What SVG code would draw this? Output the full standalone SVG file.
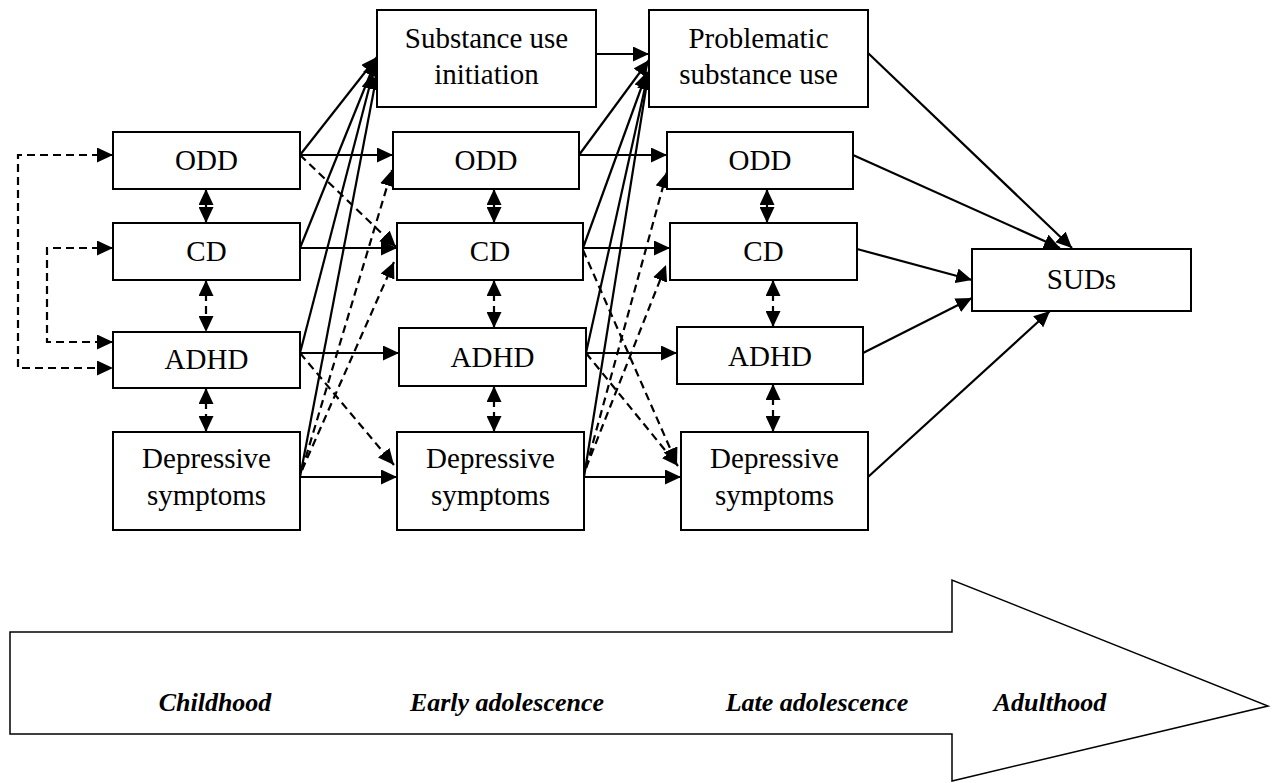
<svg xmlns="http://www.w3.org/2000/svg" width="1280" height="783" viewBox="0 0 1280 783">
  <style>
    .box { fill: #fff; stroke: #000; stroke-width: 2; }
    .lbl { font-family: "Liberation Serif", "Times New Roman", serif; font-size: 29px; fill: #000; text-anchor: middle; }
    .stage { font-family: "Liberation Serif", "Times New Roman", serif; font-size: 26px; font-weight: bold; font-style: italic; fill: #000; text-anchor: middle; }
    .solid { fill: none; stroke: #000; stroke-width: 2.2; marker-end: url(#head); }
    .dash { fill: none; stroke: #000; stroke-width: 2.2; stroke-dasharray: 8 5; marker-end: url(#head); }
    .both { marker-start: url(#head); }
  </style>
  <defs>
    <marker id="head" markerUnits="userSpaceOnUse" markerWidth="17" markerHeight="15" refX="16" refY="7.5" orient="auto-start-reverse" viewBox="0 0 17 15">
      <path d="M0,0 L16,7.5 L0,15 Z" fill="#000"/>
    </marker>
  </defs>

  <!-- time axis -->
  <polygon points="10,632 952,632 952,580 1268,706 952,781 952,734 10,734" fill="#fff" stroke="#000" stroke-width="1.5"/>
  <text class="stage" x="215" y="711">Childhood</text>
  <text class="stage" x="507" y="711">Early adolescence</text>
  <text class="stage" x="817" y="711">Late adolescence</text>
  <text class="stage" x="1050" y="711">Adulthood</text>

  <g id="connectors">
    <!-- concurrent links among childhood domains -->
    <path class="dash both" d="M113,155 H18 V368 H113"/>
    <path class="dash both" d="M113,248 H47 V342 H113"/>

    <!-- within-wave associations -->
    <path class="solid both" d="M206,189 V223"/>
    <path class="dash both" d="M206,280 V332"/>
    <path class="dash both" d="M206,388 V432"/>
    <path class="solid both" d="M494,189 V223"/>
    <path class="dash both" d="M494,280 V328"/>
    <path class="dash both" d="M494,386 V432"/>
    <path class="solid both" d="M767,189 V223"/>
    <path class="dash both" d="M773,280 V327"/>
    <path class="dash both" d="M773,384 V432"/>

    <!-- stability paths -->
    <path class="solid" d="M300,155 H393"/>
    <path class="solid" d="M300,248 H397"/>
    <path class="solid" d="M300,353 H399"/>
    <path class="solid" d="M300,477 H397"/>
    <path class="solid" d="M579,155 H667"/>
    <path class="solid" d="M583,248 H670"/>
    <path class="solid" d="M586,353 H677"/>
    <path class="solid" d="M584,477 H681"/>
    <path class="solid" d="M596,54 H649"/>

    <!-- childhood to substance use initiation -->
    <path class="solid" d="M300,155 L377,57"/>
    <path class="solid" d="M300,248 L376,60"/>
    <path class="solid" d="M300,353 L373,73"/>
    <path class="solid" d="M300,477 L377,74"/>

    <!-- early adolescence to problematic use -->
    <path class="solid" d="M579,155 L649,60"/>
    <path class="solid" d="M583,248 L647,72"/>
    <path class="solid" d="M586,353 L648,74"/>
    <path class="solid" d="M584,477 L649,70"/>

    <!-- cross-lagged paths, childhood to early adolescence -->
    <path class="dash" d="M300,155 L396,247"/>
    <path class="dash" d="M300,353 L394,465"/>
    <path class="dash" d="M302,470 L392,170"/>
    <path class="dash" d="M302,470 L394,262"/>

    <!-- cross-lagged paths, early to late adolescence -->
    <path class="dash" d="M583,250 L677,464"/>
    <path class="dash" d="M586,353 L678,466"/>
    <path class="dash" d="M586,468 L667,172"/>
    <path class="dash" d="M586,468 L666,265"/>

    <!-- late adolescence to adult outcome -->
    <path class="solid" d="M868,53 L1072,248"/>
    <path class="solid" d="M853,155 L1060,248"/>
    <path class="solid" d="M857,249 L972,280"/>
    <path class="solid" d="M863,353 L972,298"/>
    <path class="solid" d="M868,477 L1050,311"/>
  </g>

  <!-- childhood -->
  <g id="odd1"><rect class="box" x="113" y="132" width="187" height="57"/><text class="lbl" x="206.5" y="170">ODD</text></g>
  <g id="cd1"><rect class="box" x="113" y="223" width="187" height="57"/><text class="lbl" x="206.5" y="261">CD</text></g>
  <g id="adhd1"><rect class="box" x="113" y="332" width="187" height="56"/><text class="lbl" x="206.5" y="369">ADHD</text></g>
  <g id="dep1"><rect class="box" x="113" y="432" width="187" height="98"/><text class="lbl" x="206.5" y="468">Depressive</text><text class="lbl" x="206.5" y="505">symptoms</text></g>

  <!-- early adolescence -->
  <g id="sui"><rect class="box" x="377" y="10" width="219" height="97"/><text class="lbl" x="486.5" y="48">Substance use</text><text class="lbl" x="486.5" y="84">initiation</text></g>
  <g id="odd2"><rect class="box" x="393" y="132" width="186" height="57"/><text class="lbl" x="486" y="170">ODD</text></g>
  <g id="cd2"><rect class="box" x="397" y="223" width="186" height="57"/><text class="lbl" x="490" y="261">CD</text></g>
  <g id="adhd2"><rect class="box" x="399" y="328" width="187" height="58"/><text class="lbl" x="492.5" y="367">ADHD</text></g>
  <g id="dep2"><rect class="box" x="397" y="432" width="187" height="98"/><text class="lbl" x="490.5" y="468">Depressive</text><text class="lbl" x="490.5" y="505">symptoms</text></g>

  <!-- late adolescence -->
  <g id="psu"><rect class="box" x="649" y="10" width="219" height="97"/><text class="lbl" x="758.5" y="48">Problematic</text><text class="lbl" x="758.5" y="84">substance use</text></g>
  <g id="odd3"><rect class="box" x="667" y="132" width="186" height="57"/><text class="lbl" x="760" y="170">ODD</text></g>
  <g id="cd3"><rect class="box" x="670" y="223" width="187" height="57"/><text class="lbl" x="763.5" y="261">CD</text></g>
  <g id="adhd3"><rect class="box" x="677" y="327" width="186" height="57"/><text class="lbl" x="770" y="366">ADHD</text></g>
  <g id="dep3"><rect class="box" x="681" y="432" width="187" height="98"/><text class="lbl" x="774.5" y="468">Depressive</text><text class="lbl" x="774.5" y="505">symptoms</text></g>

  <!-- adulthood -->
  <g id="suds"><rect class="box" x="972" y="249" width="219" height="62"/><text class="lbl" x="1081.5" y="289">SUDs</text></g>
</svg>
